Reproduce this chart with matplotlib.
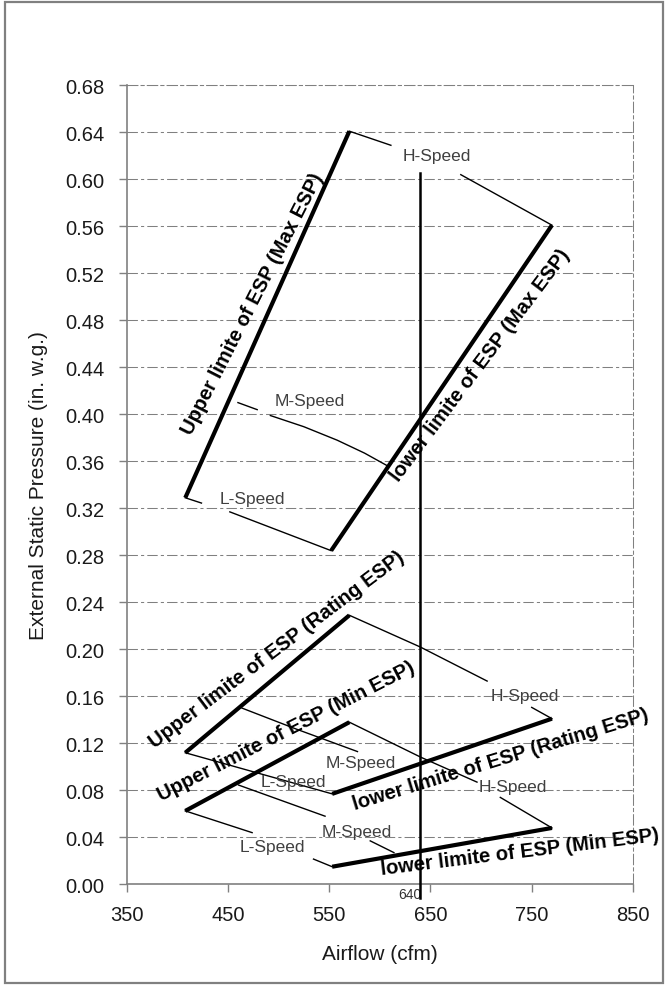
import matplotlib
matplotlib.use('Agg')
import matplotlib.pyplot as plt
from matplotlib.patches import Rectangle

plt.rcParams['font.family'] = ['Liberation Sans', 'DejaVu Sans']

# ESP limit lines (airflow cfm, static pressure in. w.g.)
upper_max_x = [408, 570]
upper_max_y = [0.329, 0.641]
lower_max_x = [552, 770]
lower_max_y = [0.284, 0.561]
upper_rating_x = [408, 570]
upper_rating_y = [0.112, 0.229]
lower_rating_x = [553, 770]
lower_rating_y = [0.077, 0.141]
upper_min_x = [408, 570]
upper_min_y = [0.0625, 0.138]
lower_min_x = [553, 770]
lower_min_y = [0.015, 0.048]

# fan speed curves, None marks the break around the label
h_max_x = [570, 611, None, 680, 770]
h_max_y = [0.641, 0.629, None, 0.604, 0.561]
m_max_x = [460, 479, None, 492, 525, 558, 585, 608]
m_max_y = [0.410, 0.404, None, 0.399, 0.3895, 0.378, 0.367, 0.356]
l_max_x = [408, 424, None, 452, 552]
l_max_y = [0.329, 0.3245, None, 0.317, 0.284]

h_rating_x = [570, 640, 706, None, 750, 770]
h_rating_y = [0.229, 0.202, 0.173, None, 0.1506, 0.141]
m_rating_x = [464, 518, 578]
m_rating_y = [0.150, 0.132, 0.113]
l_rating_x = [408, 553]
l_rating_y = [0.112, 0.077]

h_min_x = [570, 641, 696, None, 719, 770]
h_min_y = [0.138, 0.108, 0.087, None, 0.074, 0.048]
m_min_x = [460.6, 546, None, 590.6, 614]
m_min_y = [0.0845, 0.058, None, 0.037, 0.027]
l_min_x = [408, 474, None, 534.6, 553]
l_min_y = [0.0625, 0.044, None, 0.0215, 0.015]

# speed labels: text, x, y
speed_labels = [
    ('H-Speed', 656, 0.620), ('M-Speed', 531, 0.4116), ('L-Speed', 474, 0.3285),
    ('H-Speed', 743, 0.1605), ('M-Speed', 581, 0.104), ('L-Speed', 515, 0.0876),
    ('H-Speed', 731.5, 0.083), ('M-Speed', 577.5, 0.045), ('L-Speed', 493.5, 0.032),
]

# limit labels: text, x, y, angle
limit_labels = [
    ('Upper limite of ESP (Max ESP)', 474, 0.495, 63),
    ('lower limite of ESP (Max ESP)', 699, 0.4425, 53),
    ('Upper limite of ESP (Rating ESP)', 498, 0.200, 37),
    ('Upper limite of ESP (Min ESP)', 508, 0.131, 27),
    ('lower limite of ESP (Rating ESP)', 719, 0.107, 17),
    ('lower limite of ESP (Min ESP)', 738, 0.028, 7),
]

rating_airflow = 640
rating_line_y = [-0.012, 0.605]

yticks = [i * 0.04 for i in range(18)]
xticks = [350, 450, 550, 650, 750, 850]


def seg(xs, ys):
    return [float('nan') if v is None else v for v in xs], \
           [float('nan') if v is None else v for v in ys]


fig = plt.figure(figsize=(6.68, 9.87), dpi=100)
ax = fig.add_axes([0.1894, 0.1030, 0.7582, 0.8095])

grid_style = (0, (10, 3, 3, 3))
for yv in yticks[1:]:
    ax.axhline(yv, color='#808080', lw=0.75, linestyle=grid_style, zorder=1)
ax.axhline(0, color='#b0b0b0', lw=0.75, linestyle=grid_style, zorder=1)

for xs, ys in [(upper_max_x, upper_max_y), (lower_max_x, lower_max_y),
               (upper_rating_x, upper_rating_y), (lower_rating_x, lower_rating_y),
               (upper_min_x, upper_min_y), (lower_min_x, lower_min_y)]:
    ax.plot(xs, ys, color='black', lw=3, solid_capstyle='butt', zorder=4)

for xs, ys in [(h_max_x, h_max_y), (m_max_x, m_max_y), (l_max_x, l_max_y),
               (h_rating_x, h_rating_y), (m_rating_x, m_rating_y), (l_rating_x, l_rating_y),
               (h_min_x, h_min_y), (m_min_x, m_min_y), (l_min_x, l_min_y)]:
    px, py = seg(xs, ys)
    ax.plot(px, py, color='black', lw=1, zorder=3)

ax.plot([rating_airflow, rating_airflow], rating_line_y, color='black', lw=1.8,
        clip_on=False, zorder=5)
ax.text(rating_airflow - 10, -0.002, str(rating_airflow), ha='center', va='top',
        fontsize=10, color='#333333')

for txt, x, y in speed_labels:
    ax.text(x, y, txt, ha='center', va='center', fontsize=12.5, color='#404040', zorder=6)

for txt, x, y, ang in limit_labels:
    ax.text(x, y, txt, ha='center', va='center', rotation=ang, rotation_mode='anchor',
            fontsize=14.5, fontweight='bold', color='black', clip_on=False, zorder=6)

ax.set_xlim(350, 850)
ax.set_ylim(0, 0.68)
ax.set_xticks(xticks)
ax.set_yticks(yticks)
ax.set_yticklabels(['%.2f' % v for v in yticks])
ax.tick_params(axis='both', direction='out', length=6, color='#808080', width=1,
               labelsize=14.5, labelcolor='#1a1a1a')
ax.tick_params(axis='y', pad=10)
ax.tick_params(axis='x', pad=9)

ax.spines['top'].set_linestyle(grid_style)
ax.spines['top'].set_color('#808080')
ax.spines['top'].set_linewidth(0.75)
ax.spines['right'].set_linestyle(grid_style)
ax.spines['right'].set_color('#808080')
ax.spines['right'].set_linewidth(0.75)
ax.spines['left'].set_color('#808080')
ax.spines['left'].set_linewidth(1.2)
ax.spines['bottom'].set_color('#808080')
ax.spines['bottom'].set_linewidth(1.2)

ax.set_xlabel('Airflow (cfm)', fontsize=15, color='#1a1a1a', labelpad=14)
ax.set_ylabel('External Static Pressure (in. w.g.)', fontsize=15, color='#1a1a1a', labelpad=12)

fig.patches.append(Rectangle((5 / 668, 3 / 987), 658 / 668, 981 / 987, transform=fig.transFigure,
                             fill=False, edgecolor='#808080', lw=1.6))

fig.savefig('out.png', dpi=100)
